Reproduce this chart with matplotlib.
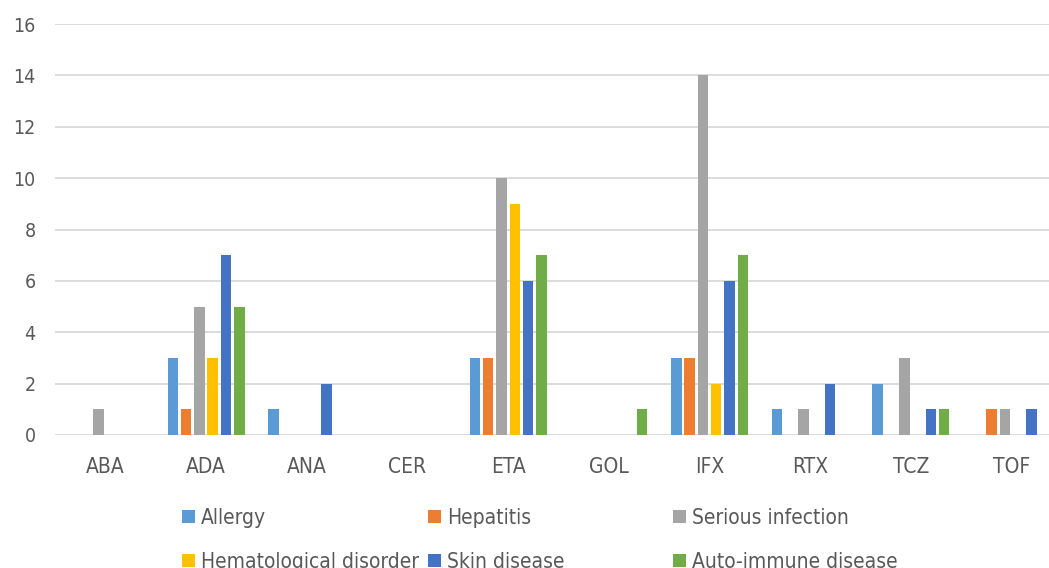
import matplotlib.pyplot as plt
from matplotlib import font_manager
import numpy as np

drugs = ['ABA', 'ADA', 'ANA', 'CER', 'ETA', 'GOL', 'IFX', 'RTX', 'TCZ', 'TOF']
allergy = [0, 3, 1, 0, 3, 0, 3, 1, 2, 0]
hepatitis = [0, 1, 0, 0, 3, 0, 3, 0, 0, 1]
serious_infection = [1, 5, 0, 0, 10, 0, 14, 1, 3, 1]
hematological = [0, 3, 0, 0, 9, 0, 2, 0, 0, 0]
skin = [0, 7, 2, 0, 6, 0, 6, 2, 1, 1]
autoimmune = [0, 5, 0, 0, 7, 1, 7, 0, 1, 0]

series = [
    ('Allergy', allergy, '#5B9BD5'),
    ('Hepatitis', hepatitis, '#ED7D31'),
    ('Serious infection', serious_infection, '#A5A5A5'),
    ('Hematological disorder', hematological, '#FFC000'),
    ('Skin disease', skin, '#4472C4'),
    ('Auto-immune disease', autoimmune, '#70AD47'),
]

txt = '#595959'


def fp(size):
    return font_manager.FontProperties(family='DejaVu Sans', stretch='condensed', size=size)


W, H = 1049, 568
fig = plt.figure(figsize=(W / 100, H / 100), dpi=100)
# plot area runs a little past the right edge of the figure
ax = fig.add_axes([55 / W, 1 - 435 / H, 1007 / W, 411 / H])

x = np.arange(len(drugs))
step = 0.132
handles = []
for i, (name, vals, col) in enumerate(series):
    b = ax.bar(x + (i - 2.5) * step, vals, width=0.104, color=col, label=name, zorder=3)
    handles.append(b)

ax.set_xlim(-0.5, len(drugs) - 0.5)
ax.set_ylim(0, 16)
ax.set_yticks(range(0, 17, 2))
ax.set_xticks(x)
ax.set_xticklabels(drugs)
ax.grid(axis='y', color='#D9D9D9', linewidth=1.3, zorder=0)
for s in ax.spines.values():
    s.set_visible(False)
ax.tick_params(axis='both', length=0, colors=txt)
ax.tick_params(axis='x', pad=16)
ax.tick_params(axis='y', pad=14)
for lab in ax.get_xticklabels():
    lab.set_fontproperties(fp(15))
for lab in ax.get_yticklabels():
    lab.set_fontproperties(fp(14))

# legend entries laid out in a 3 x 2 grid below the axis
cols_x = [182, 428, 673]
rows_y = [518, 562]
for k, h in enumerate(handles):
    cx = cols_x[k % 3]
    cy = rows_y[k // 3]
    leg = fig.legend([h], [h.get_label()], loc='center left',
                     bbox_to_anchor=(cx / W, 1 - cy / H),
                     frameon=False, handlelength=0.62, handleheight=0.6,
                     handletextpad=0.3, borderpad=0, borderaxespad=0,
                     prop=fp(15))
    for t in leg.get_texts():
        t.set_color(txt)

fig.savefig('out.png', dpi=100)
